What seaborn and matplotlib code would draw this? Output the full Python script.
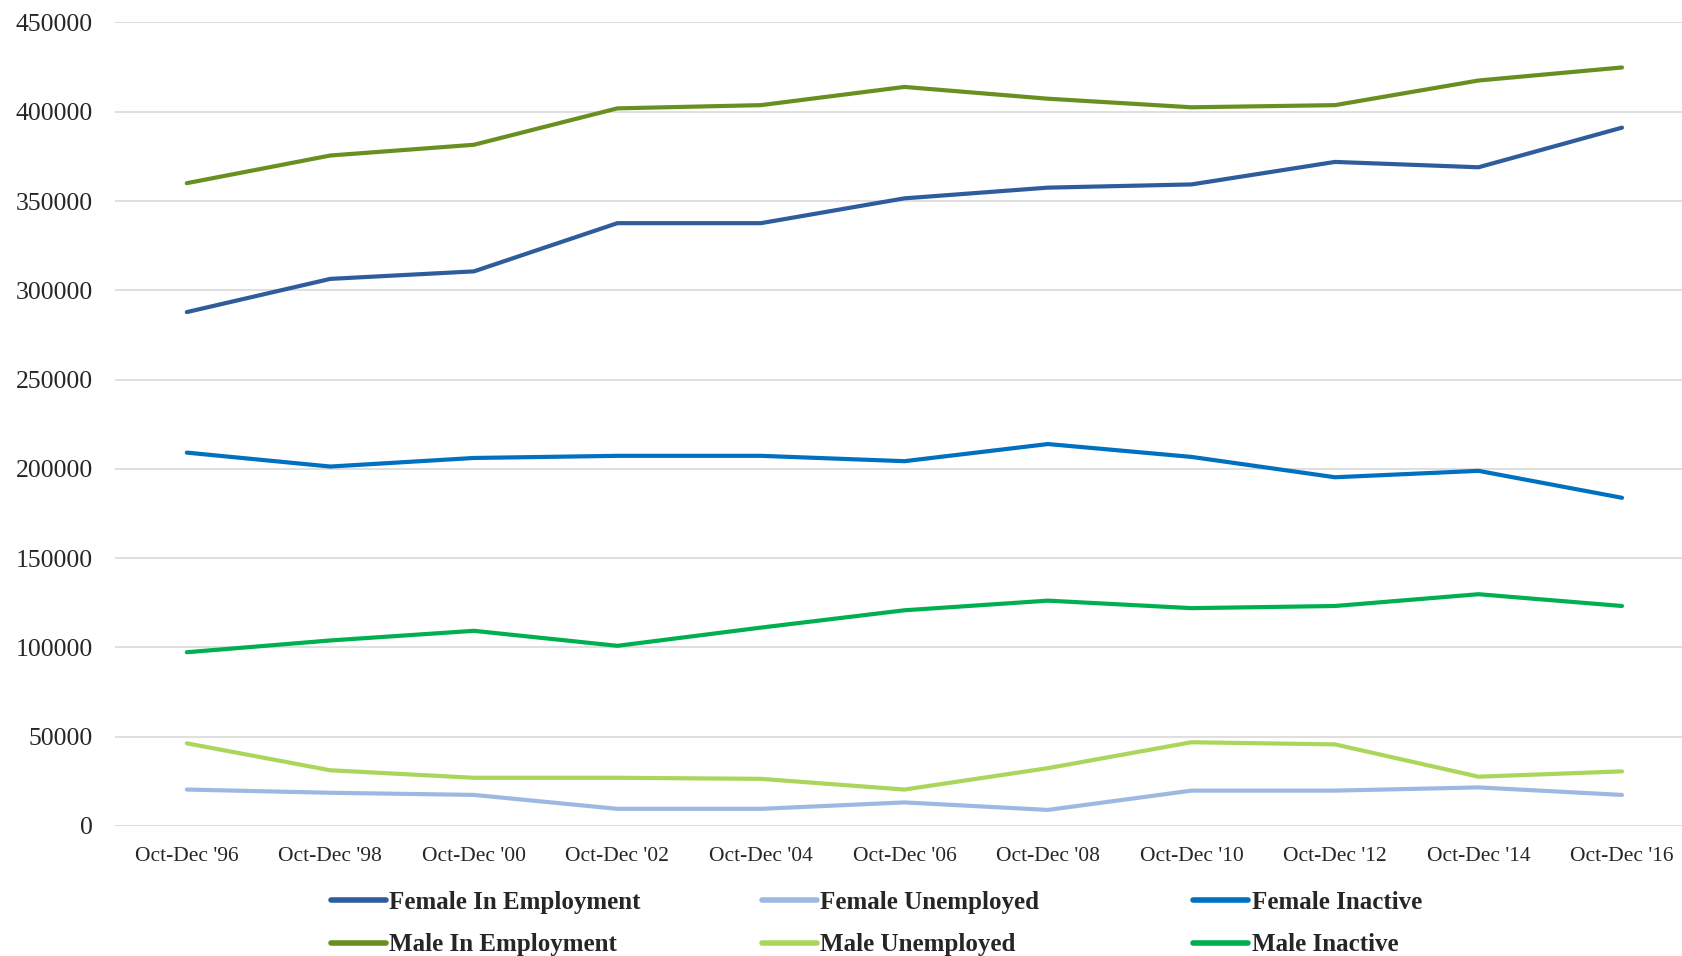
import pandas as pd
import matplotlib.pyplot as plt
import seaborn as sns

# ---- data ----
periods = ["Oct-Dec '96", "Oct-Dec '98", "Oct-Dec '00", "Oct-Dec '02", "Oct-Dec '04",
           "Oct-Dec '06", "Oct-Dec '08", "Oct-Dec '10", "Oct-Dec '12", "Oct-Dec '14",
           "Oct-Dec '16"]

female_in_employment = [287800, 306400, 310600, 337600, 337600, 351500, 357500, 359300, 371900, 368900, 391100]
female_unemployed = [20400, 18600, 17400, 9600, 9600, 13200, 9000, 19800, 19800, 21600, 17400]
female_inactive = [209100, 201300, 206100, 207300, 207300, 204300, 213900, 206700, 195300, 198900, 183800]
male_in_employment = [360000, 375500, 381500, 401900, 403700, 413900, 407300, 402500, 403700, 417500, 424800]
male_unemployed = [46300, 31200, 27000, 27000, 26400, 20400, 32400, 46900, 45700, 27600, 30600]
male_inactive = [97300, 103900, 109300, 100900, 111100, 120800, 126200, 122000, 123200, 129800, 123200]

series_names = ["Female In Employment", "Female Unemployed", "Female Inactive",
                "Male In Employment", "Male Unemployed", "Male Inactive"]
series_values = [female_in_employment, female_unemployed, female_inactive,
                 male_in_employment, male_unemployed, male_inactive]
colors = ["#2F5C9C", "#9DB9E1", "#0070C0", "#6A8F21", "#A9D65B", "#00B050"]

y_ticks = [0, 50000, 100000, 150000, 200000, 250000, 300000, 350000, 400000, 450000]

# long-form table for seaborn
rows = []
for name, vals in zip(series_names, series_values):
    for p, v in zip(periods, vals):
        rows.append({"Period": p, "Series": name, "Value": v})
df = pd.DataFrame(rows)

sns.set_style("white")
plt.rcParams["font.family"] = ["Liberation Serif", "DejaVu Serif"]

fig = plt.figure(figsize=(16.82, 9.56), dpi=100)
ax = fig.add_axes([0.0684, 0.136, 0.9386, 0.8405])

sns.lineplot(data=df, x="Period", y="Value", hue="Series", hue_order=series_names,
             palette=colors, linewidth=3, sort=False, ax=ax, legend=True)
for ln in ax.lines:
    ln.set_solid_capstyle("round")
    ln.set_solid_joinstyle("round")

ax.set_ylim(0, 450000)
ax.set_xlim(-0.5, len(periods) - 0.5)
ax.set_yticks(y_ticks)
ax.set_yticklabels([str(t) for t in y_ticks])
ax.grid(axis="y", color="#D9D9D9", linewidth=1.2)
ax.set_axisbelow(True)
for s in ax.spines.values():
    s.set_visible(False)
ax.set_xlabel("")
ax.set_ylabel("")
ax.tick_params(axis="y", labelsize=18.5, length=0, pad=16)
ax.tick_params(axis="x", labelsize=15.5, length=0, pad=15)

# legend: three equally spaced columns, two rows (female on top, male below)
handles, labels = ax.get_legend_handles_labels()
ax.get_legend().remove()
col_x = [0.1965, 0.4528, 0.7092]
for c, x in enumerate(col_x):
    idx = [c, c + 3]
    leg = fig.legend([handles[i] for i in idx], [labels[i] for i in idx],
                     loc="upper left", bbox_to_anchor=(x, 0.068),
                     frameon=False, borderpad=0, borderaxespad=0,
                     handlelength=2.2, handletextpad=0.15,
                     labelspacing=0.78, prop={"weight": "bold", "size": 18})
    for h in leg.get_lines():
        h.set_linewidth(4)

fig.savefig("out.png", dpi=100)
